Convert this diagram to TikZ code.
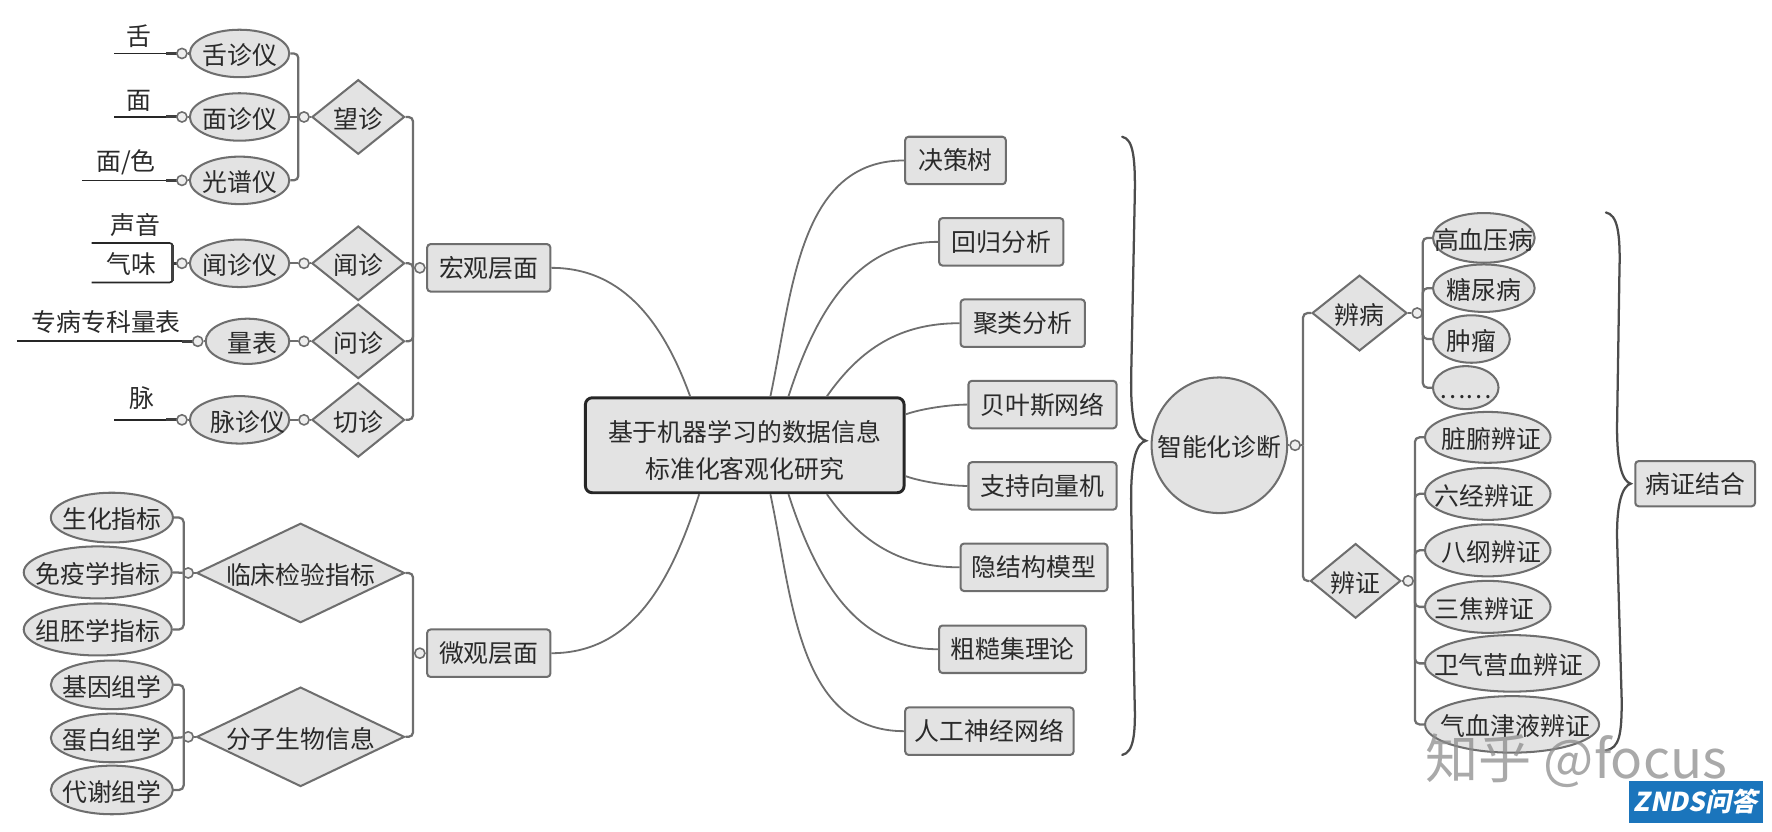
\documentclass[tikz,border=0pt]{standalone}
\usepackage{fontspec}
\setmainfont{Noto Sans CJK SC}
\newfontfamily\badgefont[FakeSlant=0.2]{Noto Sans CJK SC}
\usetikzlibrary{shapes.geometric,calc}
\newcommand\ctr[1]{\makebox[0pt]{\smash{\raisebox{-10pt}{#1}}}}
\newcommand\off[2]{\makebox[0pt]{\hspace*{#1pt}\smash{\raisebox{-10pt}{#2}}}}
\definecolor{nodefill}{HTML}{E3E3E3}
\definecolor{nodeline}{HTML}{6E6E6E}
\definecolor{inktext}{HTML}{2A2A2A}
\definecolor{badge}{HTML}{1B75BC}
\tikzset{
  base/.style={draw=nodeline,line width=1.8pt,fill=nodefill,text=inktext,inner sep=0pt,font=\fontsize{22}{32}\selectfont},
  oval/.style 2 args={base,ellipse,minimum width=#1pt,minimum height=#2pt},
  dia/.style n args={3}{base,diamond,aspect=#3,minimum width=#1pt,minimum height=#2pt},
  box/.style 2 args={base,rectangle,rounded corners=3pt,minimum width=#1pt,minimum height=#2pt},
  knob/.style={circle,draw=nodeline,line width=1.4pt,fill=nodefill!60!white,inner sep=0pt,minimum size=9pt},
  conn/.style={draw=nodeline,line width=2pt,rounded corners=4pt},
  curve/.style={draw=nodeline,line width=1.6pt},
  leaf/.style={draw=black!85,line width=1.5pt,rounded corners=3pt},
  leafend/.style={draw=black!75,line width=2.6pt},
  lbl/.style={text=inktext,inner sep=0pt,font=\fontsize{22}{32}\selectfont},
  brace/.style={draw=black!70,line width=2pt,line cap=round}
}
\begin{document}
\begin{tikzpicture}[x=1pt,y=-1pt]
\useasboundingbox (0,0) rectangle (1568,736);
% root
\node[base,rectangle,rounded corners=6pt,draw=black!85,line width=2.6pt,minimum width=282pt,minimum height=84pt,align=center,font=\fontsize{22}{32}\selectfont] (root) at (659,394) {\rule{0pt}{28pt}基于机器学习的数据信息\\标准化客观化研究};
% level boxes
\node[box={109}{42}] (hong) at (432.5,237) {宏观层面};
\node[box={109}{42}] (wei) at (432.5,578) {微观层面};
% right boxes
\node[box={89}{42}] (b1) at (845.5,142) {决策树};
\node[box={110}{42}] (b2) at (886,214) {回归分析};
\node[box={110}{42}] (b3) at (905,286) {聚类分析};
\node[box={131}{42}] (b4) at (922.5,358) {贝叶斯网络};
\node[box={131}{42}] (b5) at (922.5,430) {支持向量机};
\node[box={130}{42}] (b6) at (915,502) {隐结构模型};
\node[box={130}{42}] (b7) at (896,574.5) {粗糙集理论};
\node[box={149}{42}] (b8) at (875.5,647) {人工神经网络};
% root curves
\draw[curve] (hong.east) to[out=0,in=110,looseness=1] ($(root.north west)+(94,0)$);
\draw[curve] (wei.east) to[out=0,in=-108,looseness=1] ($(root.south west)+(102,0)$);
\draw[curve] ($(root.north west)+(165,0)$) to[out=78,in=180] (b1.west);
\draw[curve] ($(root.north west)+(181,0)$) to[out=72,in=180] (b2.west);
\draw[curve] ($(root.north west)+(215,0)$) to[out=55,in=180] (b3.west);
\draw[curve] ($(root.north east)+(0,16)$) to[out=20,in=180,looseness=0.7] (b4.west);
\draw[curve] ($(root.south east)+(0,-16)$) to[out=-20,in=180,looseness=0.7] (b5.west);
\draw[curve] ($(root.south west)+(215,0)$) to[out=-55,in=180] (b6.west);
\draw[curve] ($(root.south west)+(181,0)$) to[out=-72,in=180] (b7.west);
\draw[curve] ($(root.south west)+(165,0)$) to[out=-78,in=180] (b8.west);
% macro: diamonds
\node[dia={82}{66}{1.24}] (wang) at (317,103.5) {\ctr{望诊}};
\node[dia={82}{66}{1.24}] (wen1) at (317,233) {\ctr{闻诊}};
\node[dia={82}{66}{1.24}] (wen2) at (317,302) {\ctr{问诊}};
\node[dia={82}{66}{1.24}] (qie) at (317,371.5) {\ctr{切诊}};
\coordinate (s1) at (365.5,237);
\node[knob] (kh) at (371.5,237) {};
\draw[conn] (wang.east) -| (s1);
\draw[conn] (qie.east) -| (s1);
\draw[conn] (wen1.east) -| (s1);
\draw[conn] (wen2.east) -| (s1);
\draw[conn] (s1) -- (kh);
\draw[conn] (kh) -- (hong.west);
% macro: ellipses
\node[oval={88}{42}] (she) at (212,47.3) {\ctr{舌诊仪}};
\node[oval={88}{42}] (mian) at (212,103.5) {\ctr{面诊仪}};
\node[oval={88}{42}] (guang) at (212,159.6) {\ctr{光谱仪}};
\node[oval={88}{42}] (wenyi) at (212,233) {\ctr{闻诊仪}};
\node[oval={74}{40}] (liang) at (219,302) {\off{8}{量表}};
\node[oval={88}{42}] (mai) at (212,371.5) {\off{15}{脉诊仪}};
\coordinate (s2) at (264,103.5);
\node[knob] (kw) at (269,103.5) {};
\draw[conn] (she.east) -| (s2);
\draw[conn] (guang.east) -| (s2);
\draw[conn] (mian.east) -- (kw);
\draw[conn] (kw) -- (wang.west);
\node[knob] (kw1) at (269,233) {};
\draw[conn] (wenyi.east) -- (kw1);
\draw[conn] (kw1) -- (wen1.west);
\node[knob] (kw2) at (269,302) {};
\draw[conn] (liang.east) -- (kw2);
\draw[conn] (kw2) -- (wen2.west);
\node[knob] (kw3) at (269,371.5) {};
\draw[conn] (mai.east) -- (kw3);
\draw[conn] (kw3) -- (qie.west);
% leaves
\coordinate (a1) at (101,47.3);
\coordinate (a2) at (101,103.5);
\coordinate (a3) at (72.5,159.6);
\coordinate (a4t) at (81,215);
\coordinate (a4b) at (81,250);
\coordinate (a4v) at (153,233);
\coordinate (a5) at (15,302);
\coordinate (a6) at (101,371.5);
\draw[leaf] (a1) -- (161,47.3);
\draw[leaf] (a2) -- (161,103.5);
\draw[leaf] (a3) -- (161,159.6);
\draw[leaf] (a5) -- (175,302);
\draw[leaf] (a6) -- (161,371.5);
\draw[leaf] (a4t) -| (a4v);
\draw[leaf] (a4b) -| (a4v);
\draw[leafend] (153,217) -- (153,249);
\draw[leafend] (a4v) -- (161,233);
\draw[leafend] (147,47.3) -- (161,47.3);
\draw[leafend] (147,103.5) -- (161,103.5);
\draw[leafend] (147,159.6) -- (161,159.6);
\draw[leafend] (161,302) -- (175,302);
\draw[leafend] (147,371.5) -- (161,371.5);
\node[knob] (l1) at (161,47.3) {};
\node[knob] (l2) at (161,103.5) {};
\node[knob] (l3) at (161,159.6) {};
\node[knob] (l4) at (161,233) {};
\node[knob] (l5) at (175,302) {};
\node[knob] (l6) at (161,371.5) {};
\draw[conn] (l1) -- (she.west);
\draw[conn] (l2) -- (mian.west);
\draw[conn] (l3) -- (guang.west);
\draw[conn] (l4) -- (wenyi.west);
\draw[conn] (l5) -- (liang.west);
\draw[conn] (l6) -- (mai.west);
\node[lbl] (t1) at (122.5,32) {舌};
\node[lbl] (t2) at (122.5,89) {面};
\node[lbl] (t3) at (111.5,143.5) {面/色};
\node[lbl] (t4) at (120,199) {声音};
\node[lbl] (t5) at (116,233.5) {气味};
\node[lbl] (t6) at (94,285) {专病专科量表};
\node[lbl] (t7) at (126,352) {脉};
% micro
\node[dia={184}{88}{2.09}] (lin) at (266,507) {\ctr{临床检验指标}};
\node[dia={184}{88}{2.09}] (fen) at (266,652) {\ctr{分子生物信息}};
\coordinate (s3) at (365.5,578);
\node[knob] (km) at (371.5,578) {};
\draw[conn] (lin.east) -| (s3);
\draw[conn] (fen.east) -| (s3);
\draw[conn] (s3) -- (km);
\draw[conn] (km) -- (wei.west);
\node[oval={108}{44}] (m1) at (99,458) {\ctr{生化指标}};
\node[oval={131}{46}] (m2) at (86.5,506.5) {\ctr{免疫学指标}};
\node[oval={131}{46}] (m3) at (86.5,557) {\ctr{组胚学指标}};
\node[oval={108}{43}] (m4) at (99,606) {\ctr{基因组学}};
\node[oval={108}{43}] (m5) at (99,653) {\ctr{蛋白组学}};
\node[oval={108}{43}] (m6) at (99,699) {\ctr{代谢组学}};
\coordinate (s4) at (162.5,507);
\coordinate (s5) at (162.5,652);
\node[knob] (ka) at (166.5,507) {};
\node[knob] (kb) at (166.5,652) {};
\draw[conn] (m1.east) -| (s4);
\draw[conn] (m3.east) -| (s4);
\draw[conn] (m2.east) -- (ka);
\draw[conn] (ka) -- (lin.west);
\draw[conn] (m4.east) -| (s5);
\draw[conn] (m6.east) -| (s5);
\draw[conn] (m5.east) -- (kb);
\draw[conn] (kb) -- (fen.west);
% braces
\draw[brace] (993,121) .. controls (1003,123) and (1005,140) .. (1004,180) -- (1001,330) .. controls (1000,375) and (1006,388) .. (1014,390) .. controls (1006,392) and (1000,405) .. (1001,450) -- (1004,620) .. controls (1005,650) and (1003,666) .. (993,668);
\draw[brace] (1421,188) .. controls (1431,190) and (1434,205) .. (1433,240) -- (1431,370) .. controls (1430,412) and (1436,426) .. (1443,428) .. controls (1436,430) and (1430,444) .. (1431,480) -- (1435,620) .. controls (1435,650) and (1433,662) .. (1421,664);
% right part
\node[base,circle,minimum size=120pt] (zhi) at (1079,394) {\ctr{智能化诊断}};
\node[knob] (kz) at (1146,394) {};
\draw[conn] (zhi.east) -- (kz);
\node[dia={84}{67}{1.25}] (bb) at (1203,277) {\ctr{辨病}};
\node[dia={80}{66}{1.21}] (bz) at (1199.5,514) {\ctr{辨证}};
\coordinate (s6) at (1153,394);
\draw[conn] (kz) -- (s6);
\draw[conn] (bb.west) -| (s6);
\draw[conn] (bz.west) -| (s6);
\node[knob] (kbb) at (1254,277) {};
\node[knob] (kbz) at (1246,514) {};
\draw[conn] (bb.east) -- (kbb);
\draw[conn] (bz.east) -- (kbz);
\node[oval={90}{44}] (c1) at (1313,210.5) {\ctr{高血压病}};
\node[oval={90}{42}] (c2) at (1313,255) {\ctr{糖尿病}};
\node[oval={68}{42}] (c3) at (1302,300) {\ctr{肿瘤}};
\node[oval={58}{38}] (c4) at (1297,343) {\ctr{……}};
\coordinate (s7) at (1259,277);
\draw[conn] (kbb) -- (s7);
\draw[conn] (c1.west) -| (s7);
\draw[conn] (c2.west) -| (s7);
\draw[conn] (c3.west) -| (s7);
\draw[conn] (c4.west) -| (s7);
\node[oval={111}{45}] (d1) at (1316.5,387) {\off{6}{脏腑辨证}};
\node[oval={111}{46}] (d2) at (1316.5,437) {\off{-6}{六经辨证}};
\node[oval={111}{46}] (d3) at (1316.5,487) {\off{6}{八纲辨证}};
\node[oval={111}{46}] (d4) at (1316.5,537) {\off{-6}{三焦辨证}};
\node[oval={154}{50}] (d5) at (1338,587) {\off{-6}{卫气营血辨证}};
\node[oval={154}{50}] (d6) at (1338,641) {\off{6}{气血津液辨证}};
\coordinate (s8) at (1252,514);
\draw[conn] (kbz) -- (s8);
\draw[conn] (d1.west) -| (s8);
\draw[conn] (d2.west) -| (s8);
\draw[conn] (d3.west) -| (s8);
\draw[conn] (d4.west) -| (s8);
\draw[conn] (d5.west) -| (s8);
\draw[conn] (d6.west) -| (s8);
\node[box={106}{40}] (bing) at (1500,428) {病证结合};
% watermark and badge
\node[inner sep=0pt,text=black!45,opacity=0.75,font=\fontsize{47}{50}\selectfont] (wm) at (1395,673) {知乎 @focus};
\fill[badge] (1441,691) rectangle (1560,728);
\node[inner sep=0pt,text=white,font=\badgefont\fontsize{23}{26}\selectfont\bfseries] (zn) at (1500.5,709.5) {ZNDS问答};
\end{tikzpicture}
\end{document}
